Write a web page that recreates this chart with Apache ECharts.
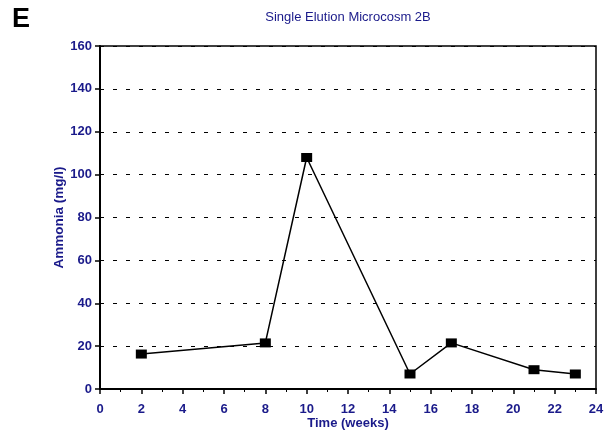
<!DOCTYPE html>
<html>
<head>
<meta charset="utf-8">
<script src="https://cdn.jsdelivr.net/npm/echarts@6/dist/echarts.min.js"></script>
<style>
  html, body { margin: 0; padding: 0; background: #fff; }
  #chart { width: 610px; height: 432px; }
</style>
</head>
<body>
<div id="chart"></div>
<script>
// data
const weeks = [2, 8, 10, 15, 17, 21, 23];
const ammonia = [16.3, 21.5, 108, 7, 21.5, 9, 7];

const navy = "#1a1a8a";
const font = "Liberation Sans, Arial";

const myChart = echarts.init(document.getElementById("chart"));
const points = weeks.map((w, i) => [w, ammonia[i]]);

myChart.setOption({
  animation: false,
  graphic: [
    {
      type: "text",
      left: 12,
      top: 6,
      style: { text: "E", font: "bold 27px Liberation Sans, Arial", fill: "#000" },
    },
  ],
  title: {
    text: "Single Elution Microcosm 2B",
    left: 343,
    top: 6,
    textAlign: "center",
    textStyle: { color: navy, fontSize: 13, fontWeight: "normal", fontFamily: font },
  },
  grid: {
    left: 100,
    right: 14,
    top: 46,
    bottom: 43,
    containLabel: false,
    outerBoundsMode: "none",
    show: true,
    borderColor: "#000",
    borderWidth: 1.5,
  },
  xAxis: {
    type: "value",
    min: 0,
    max: 24,
    interval: 2,
    name: "Time (weeks)",
    nameLocation: "middle",
    nameGap: 28,
    nameMoveOverlap: false,
    nameTextStyle: { color: navy, fontWeight: "bold", fontSize: 13, fontFamily: font },
    axisLine: { show: true, onZero: false, lineStyle: { color: "#000", width: 2 } },
    axisTick: { show: true, inside: false, length: 5, lineStyle: { color: "#000", width: 1.5 } },
    minorTick: { show: true, splitNumber: 2, length: 3, lineStyle: { color: "#000", width: 1 } },
    axisLabel: { color: navy, fontWeight: "bold", fontSize: 13, margin: 14, fontFamily: font },
    splitLine: { show: false },
  },
  yAxis: {
    type: "value",
    min: 0,
    max: 160,
    interval: 20,
    name: "Ammonia (mg/l)",
    nameLocation: "middle",
    nameGap: 34,
    nameMoveOverlap: false,
    nameTextStyle: { color: navy, fontWeight: "bold", fontSize: 13.5, fontFamily: font },
    axisLine: { show: true, lineStyle: { color: "#000", width: 2 } },
    axisTick: { show: true, inside: false, length: 5, lineStyle: { color: "#000", width: 1.5 } },
    axisLabel: { color: navy, fontWeight: "bold", fontSize: 13, margin: 8, fontFamily: font },
    splitLine: {
      show: true,
      lineStyle: { color: "#000", width: 1, type: [4, 9] },
    },
  },
  series: [
    {
      type: "line",
      data: points,
      symbol: "rect",
      symbolSize: [11, 9],
      itemStyle: { color: "#000" },
      lineStyle: { color: "#000", width: 1.5 },
    },
  ],
});
</script>
</body>
</html>
